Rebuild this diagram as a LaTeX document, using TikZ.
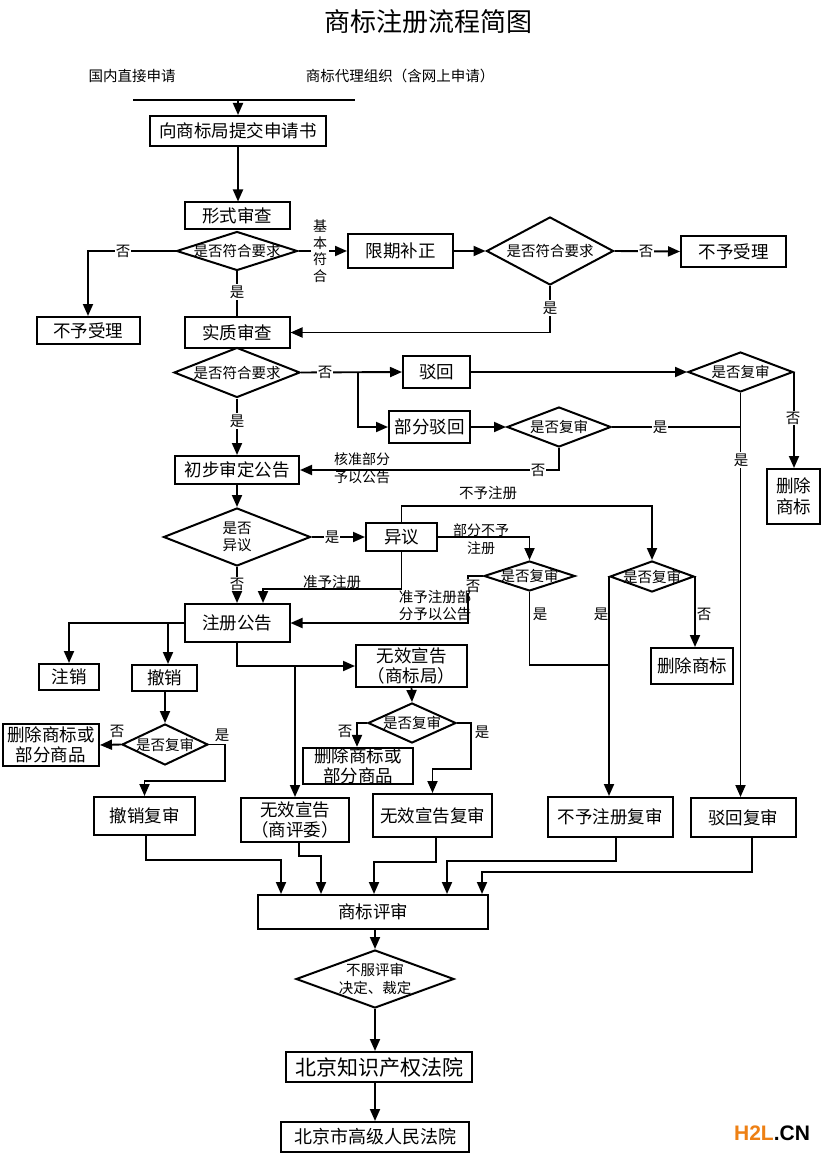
\documentclass[tikz,border=0pt]{standalone}
\usepackage{fontspec}
\setmainfont{Noto Sans CJK SC}
\newfontfamily\wmfont{Liberation Sans}
\usetikzlibrary{arrows.meta,shapes.geometric,calc}
\newcommand\fsA{\fontsize{17.5pt}{20pt}\selectfont}
\newcommand\fsB{\fontsize{14.5pt}{17.5pt}\selectfont}
\definecolor{wmorange}{RGB}{238,128,20}
\begin{document}
\begin{tikzpicture}[x=1pt,y=-1pt,line width=1.9pt,
  bx/.style n args={2}{draw,line width=2pt,inner sep=0pt,minimum width=#1pt,minimum height=#2pt,align=center,font=\fsA},
  dm/.style n args={3}{draw,diamond,line width=2pt,inner sep=0pt,minimum width=#1pt,minimum height=#2pt,
     label={[font=\fsB,align=center,inner sep=0pt]center:{#3}}},
  arr/.style={-{Triangle[length=12pt,width=10pt]}},
  lbl/.style={fill=white,inner sep=1.2pt,font=\fsB},
  txt/.style={inner sep=0pt,font=\fsB,align=center}]
\useasboundingbox (0,0) rectangle (824,1155);
\fill[white] (0,0) rectangle (824,1155);

% titles
\node[inner sep=0pt,font=\fontsize{26pt}{30pt}\selectfont] (title) at (428,22) {商标注册流程简图};
\node[txt] (src1) at (132,76) {国内直接申请};
\node[txt] (src2) at (400,76) {商标代理组织（含网上申请）};

% nodes
\node[bx={176}{30}] (submit) at (238,131) {向商标局提交申请书};
\node[bx={105}{27}] (xs) at (237,216) {形式审查};
\node[dm={121}{39}{是否符合要求}] (d1) at (237,251) {};
\node[bx={103}{27}] (bsl) at (88,330.5) {不予受理};
\node[bx={105}{34}] (xq) at (400.5,251) {限期补正};
\node[dm={127}{68}{是否符合要求}] (d2) at (550,251) {};
\node[bx={105}{31}] (bsl2) at (733.5,251.5) {不予受理};
\node[bx={105}{31}] (sz) at (237,332.5) {实质审查};
\node[dm={126}{50}{是否符合要求}] (d3) at (237,372.5) {};
\node[bx={67}{32}] (bh) at (436.5,372) {驳回};
\node[bx={81}{32}] (bfbh) at (429.5,427) {部分驳回};
\node[dm={105}{40}{是否复审}] (d4) at (740.5,372) {};
\node[bx={53}{55}] (scsb1) at (793.5,496.5) {删除\\[1pt]商标};
\node[dm={104}{40}{是否复审}] (d5) at (559,427) {};
\node[bx={124}{28}] (cb) at (237,470) {初步审定公告};
\node[dm={147}{58}{是否\\异议}] (d6) at (237,537) {};
\node[bx={71}{28}] (yy) at (401.5,537) {异议};
\node[dm={91}{30}{是否复审}] (d7) at (529.5,576) {};
\node[dm={84}{31}{是否复审}] (d8) at (652,576.5) {};
\node[bx={82}{36}] (scsb2) at (692,666) {删除商标};
\node[bx={105}{38}] (zcgg) at (237,623) {注册公告};
\node[bx={60}{26}] (zx) at (69,677) {注销};
\node[bx={65}{26}] (cx) at (164.5,678) {撤销};
\node[dm={86}{41}{是否复审}] (d9) at (165,744.5) {};
\node[bx={96}{42}] (scsbl) at (51,745) {删除商标或\\部分商品};
\node[bx={101}{38}] (cxfs) at (144.5,816) {撤销复审};
\node[bx={111}{42}] (wxsbj) at (411.5,666) {无效宣告\\（商标局）};
\node[dm={88}{40}{是否复审}] (d10) at (412,723) {};
\node[bx={110}{36}] (scsbm) at (358,766) {删除商标或\\部分商品};
\node[bx={119}{43}] (wxfs) at (432.5,815.5) {无效宣告复审};
\node[bx={108}{44}] (wxpw) at (295,820) {无效宣告\\（商评委）};
\node[bx={125}{40}] (bzfs) at (610,817) {不予注册复审};
\node[bx={105}{39}] (bhfs) at (743,817.5) {驳回复审};
\node[bx={230}{34}] (sbps) at (373,912) {商标评审};
\node[dm={158}{58}{不服评审\\决定、裁定}] (d11) at (375,979) {};
\node[bx={186}{30},font=\fontsize{21pt}{24pt}\selectfont] (bjzc) at (379,1067) {北京知识产权法院};
\node[bx={188}{30},font=\fontsize{18pt}{21pt}\selectfont] (bjgy) at (375,1137) {北京市高级人民法院};

% top
\coordinate (tl) at (133,100); \coordinate (tr) at (355,100); \coordinate (tm) at (238,100);
\draw (tl) -- (tr);
\draw[arr] (tm) -- (tm |- submit.north);
\draw[arr] (submit.south) -- (submit.south |- xs.north);

% formal check
\draw[arr] (d1.west) -| (bsl.north);
\node[lbl] at (123,251) {否};
\draw (d1.south) -- (sz.north);
\node[lbl] at (237,292) {是};
\draw[arr] (d1.east) -- (xq.west);
\node[lbl,align=center,font=\fontsize{14pt}{16.5pt}\selectfont,inner sep=2pt] at (320,251) {基\\本\\符\\合};
\draw[arr] (xq.east) -- (d2.west);
\draw[arr] (d2.east) -- (bsl2.west);
\node[lbl] at (646,251) {否};
\draw[arr] (d2.south) |- (sz.east);
\node[lbl] at (550,308) {是};

% substantive check
\draw[arr] (d3.east) -- (bh.west);
\node[lbl] at (325,372) {否};
\coordinate (c3) at (358,372);
\draw[arr] (c3) |- (bfbh.west);
\draw[arr] (bh.east) -- (d4.west);
\draw[arr] (bfbh.east) -- (d5.west);
\draw[arr] (d4.east) -- (d4.east |- scsb1.north);
\node[lbl] at (793,418) {否};
\draw[arr] (d4.south) -- (d4.south |- bhfs.north);
\node[lbl] at (741,460) {是};
\draw (d5.east) -- (d5.east -| d4.south);
\node[lbl] at (660,427) {是};
\draw[arr] (d5.south) |- (cb.east);
\node[lbl] at (538,470) {否};
\node[txt,font=\fontsize{14pt}{18pt}\selectfont] at (362,468) {核准部分\\予以公告};
\draw[arr] (d3.south) -- (cb.north);
\node[lbl] at (237,421) {是};
\draw[arr] (cb.south) -- (d6.north);

% opposition
\draw[arr] (d6.east) -- (yy.west);
\node[lbl] at (332,537) {是};
\draw[arr] (d6.south) -- (d6.south |- zcgg.north);
\node[lbl] at (237,584) {否};
\draw[arr] (yy.north) -- ++(0,-16) -| (d8.north);
\node[txt] at (488,493) {不予注册};
\draw[arr] (yy.east) -| (d7.north);
\node[txt,font=\fontsize{14pt}{18pt}\selectfont] at (481,539) {部分不予\\注册};
\coordinate (c6) at (263,589);
\draw[arr] (yy.south) |- (c6) -- (c6 |- zcgg.north);
\node[txt] at (332,582) {准予注册};
\coordinate (c7) at (468,623);
\draw[arr] (d7.west) -| (c7) -- (c7 -| zcgg.east);
\node[lbl,inner sep=0.5pt] at (473,586) {否};
\node[txt,font=\fontsize{14.5pt}{17pt}\selectfont] at (435,606) {准予注册部\\分予以公告};
\coordinate (j8) at (610,665);
\draw (d7.south) |- (j8);
\node[txt] at (540,614) {是};
\draw[arr] (d8.west) -- (d8.west |- bzfs.north);
\node[txt] at (601,614) {是};
\draw[arr] (d8.east) -- (d8.east |- scsb2.north);
\node[txt] at (704,614) {否};

% registration announcement
\coordinate (c9) at (168,623);
\draw[arr] (zcgg.west) -| (zx.north);
\draw[arr] (c9) -- (c9 |- cx.north);
\draw[arr] (d9.north |- cx.south) -- (d9.north);
\draw[arr] (d9.west) -- (scsbl.east);
\node[txt] at (117,731) {否};
\coordinate (c10) at (225,781);
\draw[arr] (d9.east) -| (c10) -| (cxfs.north);
\node[txt] at (222,735) {是};
\draw[arr] (zcgg.south) |- (wxsbj.west);
\coordinate (c12) at (295,666);
\draw[arr] (c12) -- (c12 |- wxpw.north);
\draw[arr] (wxsbj.south) -- (d10.north);
\coordinate (c13) at (357,723);
\draw[arr] (d10.west) -- (c13) -- (c13 |- scsbm.north);
\node[txt] at (345,731) {否};
\coordinate (c14) at (471,769);
\draw[arr] (d10.east) -| (c14) -| (wxfs.north);
\node[txt] at (482,732) {是};

% into trademark review
\coordinate (e1) at (281,860);
\coordinate (e2) at (321,856);
\coordinate (e3) at (374,862);
\coordinate (e4) at (447,861);
\coordinate (e5) at (482,872);
\draw[arr] ([xshift=1.5pt]cxfs.south) |- (e1) -- (e1 |- sbps.north);
\draw[arr] ([xshift=4pt]wxpw.south) |- (e2) -- (e2 |- sbps.north);
\draw[arr] ([xshift=3.5pt]wxfs.south) |- (e3) -- (e3 |- sbps.north);
\draw[arr] ([xshift=6pt]bzfs.south) |- (e4) -- (e4 |- sbps.north);
\draw[arr] ([xshift=9pt]bhfs.south) |- (e5) -- (e5 |- sbps.north);

\draw[arr] (d11.north |- sbps.south) -- (d11.north);
\draw[arr] (d11.south) -- (d11.south |- bjzc.north);
\draw[arr] (d11.south |- bjzc.south) -- (d11.south |- bjgy.north);

% watermark
\node[inner sep=0pt,font=\wmfont\bfseries\fontsize{21pt}{21pt}\selectfont] (wm) at (772,1133) {\textcolor{wmorange}{H2L}.CN};
\end{tikzpicture}
\end{document}
